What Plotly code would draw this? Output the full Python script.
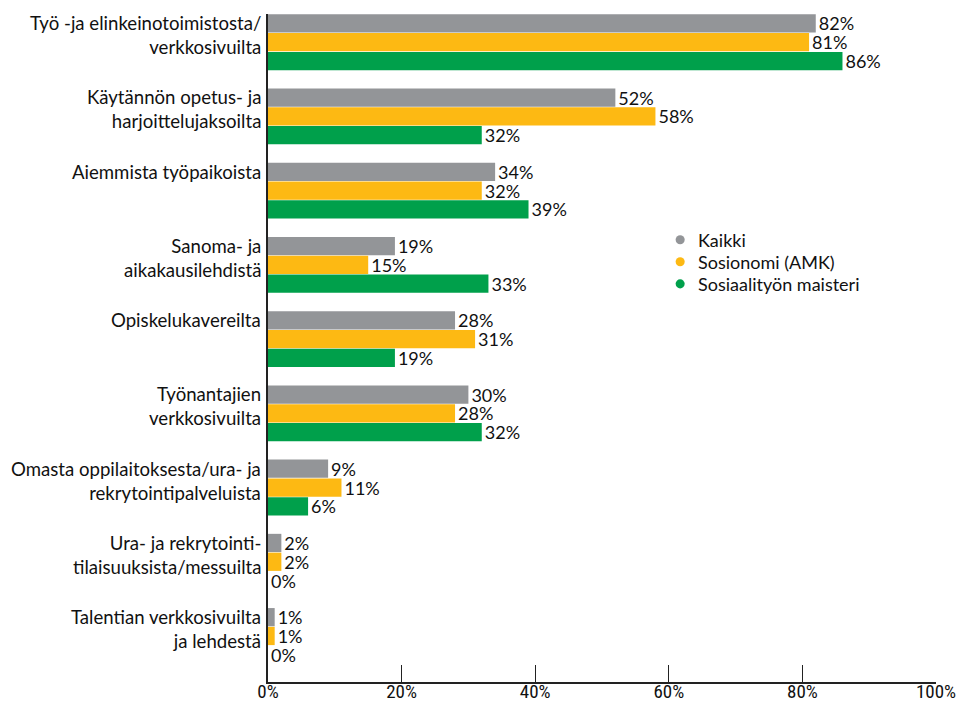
import plotly.graph_objects as go

categories = [
    "Työ -ja elinkeinotoimistosta/<br>verkkosivuilta",
    "Käytännön opetus- ja<br>harjoittelujaksoilta",
    "Aiemmista työpaikoista",
    "Sanoma- ja<br>aikakausilehdistä",
    "Opiskelukavereilta",
    "Työnantajien<br>verkkosivuilta",
    "Omasta oppilaitoksesta/ura- ja<br>rekrytointipalveluista",
    "Ura- ja rekrytointi-<br>tilaisuuksista/messuilta",
    "Talentian verkkosivuilta<br>ja lehdestä",
]
kaikki = [82, 52, 34, 19, 28, 30, 9, 2, 1]
sosionomi = [81, 58, 32, 15, 31, 28, 11, 2, 1]
maisteri = [86, 32, 39, 33, 19, 32, 6, 0, 0]

series_names = ["Kaikki", "Sosionomi (AMK)", "Sosiaalityön maisteri"]
series_values = [kaikki, sosionomi, maisteri]
series_colors = ["#939598", "#FDB913", "#00A04B"]

LABEL_FONT = "Lato, 'Open Sans', sans-serif"
TICK_FONT = "'Liberation Sans Narrow', 'Roboto Condensed', 'DejaVu Sans Condensed', sans-serif"

BARGAP = 0.24
ids = list(range(len(categories)))

fig = go.Figure()

for name, vals, color in zip(series_names, series_values, series_colors):
    fig.add_trace(
        go.Bar(
            y=ids,
            x=vals,
            orientation="h",
            name=name,
            marker=dict(color=color, line=dict(width=0)),
            text=[f"{v}%" for v in vals],
            textposition="outside",
            constraintext="none",
            cliponaxis=False,
            textfont=dict(family=LABEL_FONT, size=18, color="#111111"),
            showlegend=False,
            hoverinfo="skip",
        )
    )

# Category labels aligned with the top of each group
annotations = []
for i, cat in enumerate(categories):
    annotations.append(
        dict(
            text=cat,
            x=0,
            xref="paper",
            xanchor="right",
            xshift=-5,
            y=i,
            yref="y",
            yanchor="top",
            yshift=32,
            align="right",
            showarrow=False,
            font=dict(family=LABEL_FONT, size=18.6, color="#111111"),
        )
    )

# Hand-made legend: round dots with labels
shapes = []
legend_x = 0.617
legend_y = [0.662, 0.629, 0.596]
dot_r = 0.0068
for name, color, ly in zip(series_names, series_colors, legend_y):
    shapes.append(
        dict(
            type="circle",
            xref="paper",
            yref="paper",
            x0=legend_x - dot_r,
            x1=legend_x + dot_r,
            y0=ly - dot_r,
            y1=ly + dot_r,
            fillcolor=color,
            line=dict(width=0),
        )
    )
    annotations.append(
        dict(
            text=name,
            x=legend_x + 0.024,
            xref="paper",
            xanchor="left",
            y=ly,
            yref="paper",
            yanchor="middle",
            showarrow=False,
            font=dict(family=LABEL_FONT, size=18, color="#111111"),
        )
    )

# the first group starts right at the top of the axis, the gap sits below
shift = BARGAP / 2

fig.update_layout(
    width=956,
    height=694,
    barmode="group",
    bargap=BARGAP,
    bargroupgap=0.03,
    plot_bgcolor="white",
    paper_bgcolor="white",
    showlegend=False,
    margin=dict(l=260, r=28, t=6, b=20, autoexpand=False),
    annotations=annotations,
    shapes=shapes,
    xaxis=dict(
        range=[0, 100],
        tickvals=[0, 20, 40, 60, 80, 100],
        ticktext=["0%", "20%", "40%", "60%", "80%", "100%"],
        ticks="inside",
        ticklen=17,
        tickcolor="#222222",
        tickwidth=1,
        ticklabelstandoff=-9,
        showgrid=False,
        zeroline=False,
        showline=True,
        linecolor="#222222",
        linewidth=1.5,
        automargin=False,
        tickfont=dict(family=TICK_FONT, size=19, color="#111111"),
    ),
    yaxis=dict(
        range=[len(categories) - 0.5 + shift, -0.5 + shift],
        showticklabels=False,
        ticks="",
        showgrid=False,
        zeroline=False,
        showline=True,
        linecolor="#222222",
        linewidth=1.5,
        automargin=False,
    ),
)

fig.write_html("out.html")
